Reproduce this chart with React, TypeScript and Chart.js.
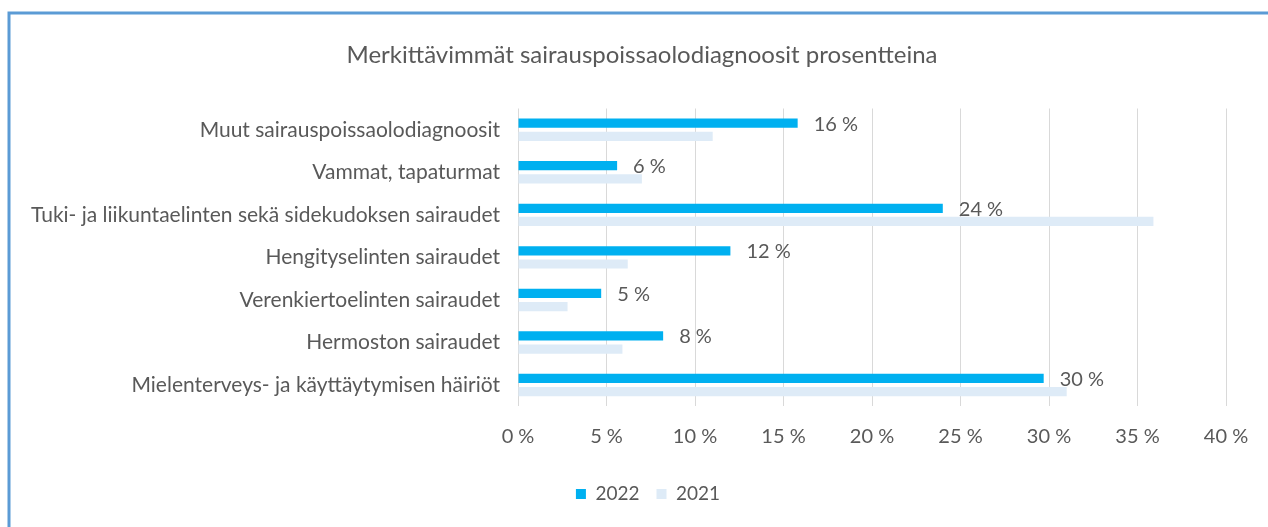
import React, { useEffect, useRef } from "react";
import { Chart, registerables } from "chart.js";

Chart.register(...registerables);

const categories = [
  "Muut sairauspoissaolodiagnoosit",
  "Vammat, tapaturmat",
  "Tuki- ja liikuntaelinten sekä sidekudoksen sairaudet",
  "Hengityselinten sairaudet",
  "Verenkiertoelinten sairaudet",
  "Hermoston sairaudet",
  "Mielenterveys- ja käyttäytymisen häiriöt",
];
const values2022 = [15.8, 5.6, 24.0, 12.0, 4.7, 8.2, 29.7];
const values2021 = [11.0, 7.0, 35.9, 6.2, 2.8, 5.9, 31.0];
const xTicks = [0, 5, 10, 15, 20, 25, 30, 35, 40];
const seriesNames = ["2022", "2021"];
const title = "Merkittävimmät sairauspoissaolodiagnoosit prosentteina";

const FONT = "Lato";
const TEXT = "#595959";
const TITLE_LEFT = 58;
const LEGEND_LEFT = 70;

export default function App() {
  const ref = useRef<HTMLCanvasElement | null>(null);
  useEffect(() => {
    const canvas = ref.current;
    if (!canvas) return;
    const frame = {
      id: "frame",
      beforeDraw(chart: any) {
        const ctx = chart.ctx;
        ctx.save();
        ctx.fillStyle = "#ffffff";
        ctx.fillRect(0, 0, chart.width, chart.height);
        ctx.strokeStyle = "#5B9BD5";
        ctx.lineWidth = 3;
        ctx.beginPath();
        ctx.moveTo(9, chart.height);
        ctx.lineTo(9, 13);
        ctx.lineTo(chart.width, 13);
        ctx.stroke();
        ctx.restore();
      },
    };
    const recenter = {
      id: "recenter",
      afterLayout(chart: any) {
        if (chart.titleBlock) chart.titleBlock.left = TITLE_LEFT;
        if (chart.legend) chart.legend.left = LEGEND_LEFT;
      },
    };
    const labels = {
      id: "valLabels",
      afterDatasetsDraw(chart: any) {
        const ctx = chart.ctx;
        const meta = chart.getDatasetMeta(0);
        ctx.save();
        ctx.font = `20px ${FONT}`;
        ctx.fillStyle = TEXT;
        ctx.textAlign = "left";
        ctx.textBaseline = "middle";
        meta.data.forEach((el: any, i: number) => {
          const v = chart.data.datasets[0].data[i];
          ctx.fillText(`${Math.round(v)} %`, el.x + 16, el.y + 1);
        });
        ctx.restore();
      },
    };
    const chart = new Chart(canvas, {
      type: "bar",
      data: {
        labels: categories,
        datasets: [
          { label: seriesNames[0], data: values2022, backgroundColor: "#00B0F0" },
          { label: seriesNames[1], data: values2021, backgroundColor: "#DEEBF7" },
        ],
      },
      options: {
        indexAxis: "y",
        animation: false,
        responsive: false,
        maintainAspectRatio: false,
        datasets: { bar: { categoryPercentage: 0.62, barPercentage: 0.7 } },
        layout: { padding: { left: 0, right: 42, top: 0, bottom: 13.6 } },
        plugins: {
          title: {
            display: true,
            text: title,
            color: TEXT,
            font: { family: FONT, size: 24, weight: "normal" },
            padding: { top: 40.6, bottom: 39.1 },
          },
          legend: {
            position: "bottom",
            labels: {
              color: TEXT,
              font: { family: FONT, size: 19 },
              boxWidth: 10,
              boxHeight: 10,
              padding: 17,
            },
          },
          tooltip: { enabled: false },
        },
        scales: {
          x: {
            min: 0,
            max: 40,
            afterBuildTicks(scale: any) {
              scale.ticks = xTicks.map((v) => ({ value: v }));
            },
            afterFit(scale: any) {
              scale.height = 61.1;
            },
            ticks: {
              color: TEXT,
              font: { family: FONT, size: 20 },
              padding: 18,
              maxRotation: 0,
              callback: (v: any) => `${v} %`,
            },
            grid: { color: "#D9D9D9", drawTicks: false },
            border: { display: false },
          },
          y: {
            afterFit(scale: any) {
              scale.width = 518;
            },
            ticks: {
              color: TEXT,
              font: { family: FONT, size: 21 },
              padding: 18,
            },
            grid: { display: false, drawTicks: false },
            border: { display: false },
          },
        },
      },
      plugins: [frame, recenter, labels],
    } as any);
    return () => chart.destroy();
  }, []);
  return (
    <div style={{ position: "fixed", left: 0, top: 0, width: 1268, height: 527 }}>
      <canvas ref={ref} width={1268} height={527} style={{ display: "block" }} />
    </div>
  );
}
